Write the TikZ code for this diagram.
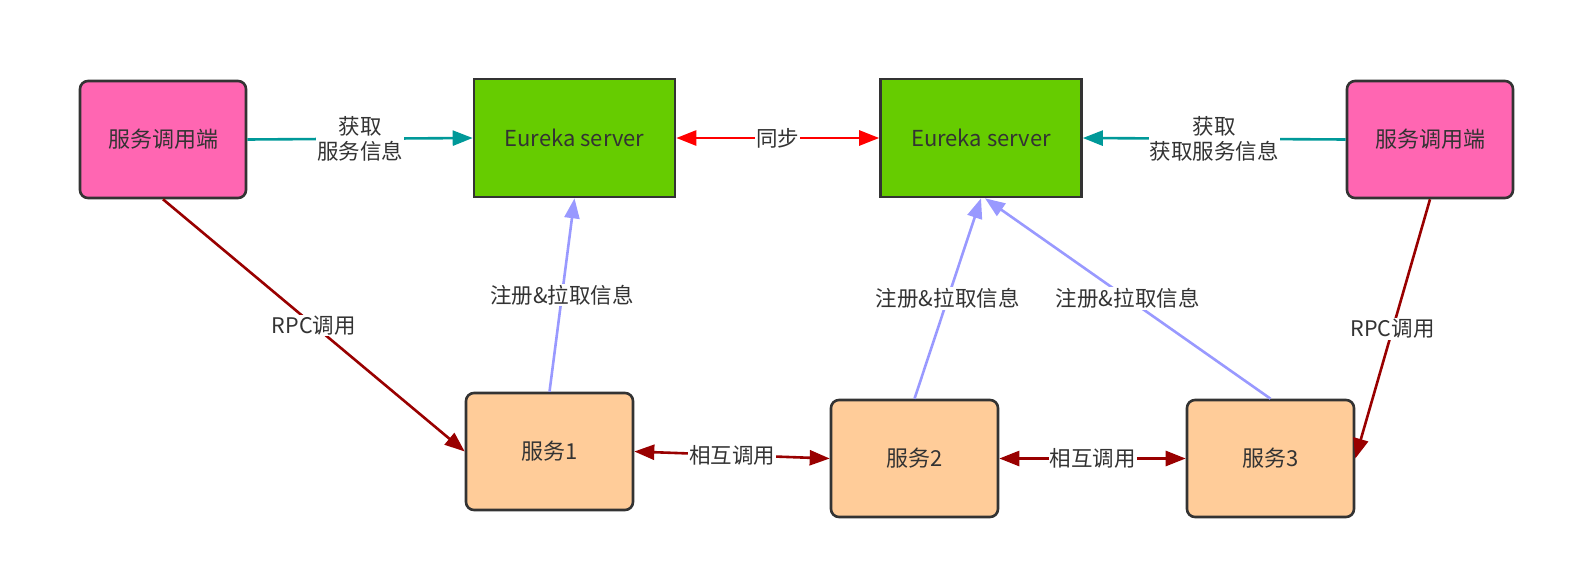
\documentclass[tikz,border=0pt]{standalone}
\usepackage{fontspec}
\setmainfont{Noto Sans CJK SC}
\usetikzlibrary{arrows.meta,positioning}
\definecolor{pinkbox}{RGB}{255,102,178}
\definecolor{greenbox}{RGB}{102,204,0}
\definecolor{peachbox}{RGB}{255,204,153}
\definecolor{tealline}{RGB}{0,153,153}
\definecolor{redline}{RGB}{255,0,0}
\definecolor{darkredline}{RGB}{153,0,0}
\definecolor{blueline}{RGB}{153,153,255}
\definecolor{border}{RGB}{51,51,51}
\definecolor{txt}{RGB}{51,51,51}
\begin{document}
\begin{tikzpicture}[x=1pt,y=-1pt,
  box/.style={draw=border,line width=2.6pt,text=txt,font=\fontsize{22}{26}\selectfont,
    minimum width=166pt,minimum height=117pt,inner sep=0pt},
  callerbox/.style={box,fill=pinkbox,rounded corners=8pt},
  serverbox/.style={box,fill=greenbox,minimum width=201pt,minimum height=118pt},
  svcbox/.style={box,fill=peachbox,rounded corners=8pt,minimum width=167pt},
  conn/.style={line width=2.6pt,-{Triangle[length=20pt,width=15pt]}},
  biconn/.style={line width=2.6pt,{Triangle[length=20pt,width=15pt]}-{Triangle[length=20pt,width=15pt]}},
  lbl/.style={fill=white,text=txt,font=\fontsize{21.5}{25}\selectfont,inner sep=1pt,align=center}
]
\useasboundingbox (0,0) rectangle (1569,570);
\node[callerbox] (cl) at (163,139.5) {服务调用端};
\node[serverbox] (el) at (574.5,138) {Eureka server};
\node[serverbox] (er) at (981,138) {Eureka server};
\node[callerbox] (cr) at (1430,139.5) {服务调用端};
\node[svcbox] (s1) at (549.5,451.5) {服务1};
\node[svcbox] (s2) at (914.5,458.5) {服务2};
\node[svcbox] (s3) at (1270.5,458.5) {服务3};

\draw[conn,draw=tealline,-{Triangle[length=20pt,width=15pt,fill=tealline]}] (cl.east) -- node[lbl]{获取\\服务信息} (el.west);
\draw[biconn,draw=redline,{Triangle[length=20pt,width=15pt,fill=redline]}-{Triangle[length=20pt,width=15pt,fill=redline]}] (el.east) -- node[lbl]{同步} (er.west);
\draw[conn,draw=tealline,-{Triangle[length=20pt,width=15pt,fill=tealline]}] (cr.west) -- node[lbl]{获取\\获取服务信息} (er.east);

\draw[conn,draw=darkredline,-{Triangle[length=20pt,width=15pt,fill=darkredline]}] (cl.south) -- node[lbl]{RPC调用} (s1.west);
\draw[conn,draw=darkredline,-{Triangle[length=20pt,width=15pt,fill=darkredline]}] (cr.south) -- node[lbl]{RPC调用} (s3.east);

\draw[conn,draw=blueline,-{Triangle[length=20pt,width=15pt,fill=blueline]}] (s1.north) -- node[lbl]{注册\&拉取信息} (el.south);
\draw[conn,draw=blueline,-{Triangle[length=20pt,width=15pt,fill=blueline]}] (s2.north) -- node[lbl]{注册\&拉取信息} (er.south);
\draw[conn,draw=blueline,-{Triangle[length=20pt,width=15pt,fill=blueline]}] (s3.north) -- node[lbl]{注册\&拉取信息} ([xshift=4pt]er.south);

\draw[biconn,draw=darkredline,{Triangle[length=20pt,width=15pt,fill=darkredline]}-{Triangle[length=20pt,width=15pt,fill=darkredline]}] (s1.east) -- node[lbl]{相互调用} (s2.west);
\draw[biconn,draw=darkredline,{Triangle[length=20pt,width=15pt,fill=darkredline]}-{Triangle[length=20pt,width=15pt,fill=darkredline]}] (s2.east) -- node[lbl]{相互调用} (s3.west);
\end{tikzpicture}
\end{document}
